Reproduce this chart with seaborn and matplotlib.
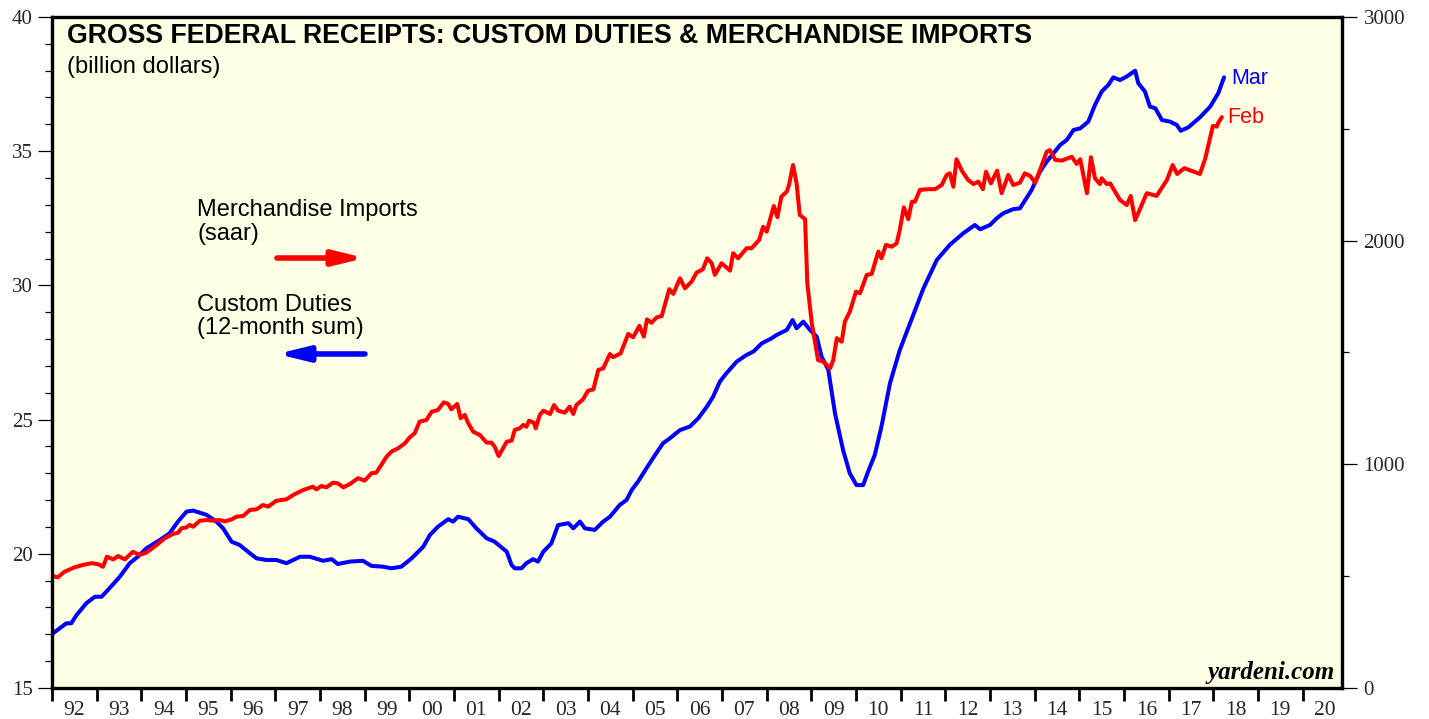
import matplotlib
matplotlib.use("Agg")
import matplotlib.pyplot as plt
from matplotlib.ticker import MultipleLocator, FixedLocator, NullFormatter
import seaborn as sns

# Custom duties, 12-month sum (billion dollars, left axis)
duties_year = [
    1992.00, 1992.17, 1992.32, 1992.43, 1992.55, 1992.77, 1992.96, 1993.11, 1993.25, 1993.52,
    1993.74, 1993.92, 1994.11, 1994.41, 1994.63, 1994.82, 1995.01, 1995.16, 1995.46, 1995.68,
    1995.83, 1996.02, 1996.20, 1996.43, 1996.58, 1996.80, 1997.02, 1997.25, 1997.55, 1997.77,
    1998.07, 1998.26, 1998.40, 1998.67, 1998.96, 1999.15, 1999.41, 1999.60, 1999.82, 2000.05,
    2000.31, 2000.46, 2000.64, 2000.87, 2000.98, 2001.09, 2001.32, 2001.50, 2001.73, 2001.91,
    2002.18, 2002.29, 2002.36, 2002.51, 2002.62, 2002.77, 2002.88, 2003.00, 2003.18, 2003.33,
    2003.56, 2003.67, 2003.82, 2003.93, 2004.15, 2004.34, 2004.49, 2004.71, 2004.86, 2004.98,
    2005.12, 2005.31, 2005.50, 2005.68, 2005.83, 2006.06, 2006.28, 2006.47, 2006.66, 2006.80,
    2006.95, 2007.10, 2007.33, 2007.55, 2007.70, 2007.89, 2008.11, 2008.22, 2008.45, 2008.58,
    2008.67, 2008.82, 2008.97, 2009.12, 2009.23, 2009.38, 2009.53, 2009.71, 2009.86, 2010.01,
    2010.16, 2010.27, 2010.42, 2010.57, 2010.76, 2010.98, 2011.21, 2011.51, 2011.81, 2012.10,
    2012.40, 2012.66, 2012.78, 2013.00, 2013.15, 2013.30, 2013.52, 2013.67, 2013.93, 2014.12,
    2014.27, 2014.42, 2014.57, 2014.72, 2014.87, 2015.02, 2015.20, 2015.35, 2015.50, 2015.65,
    2015.76, 2015.91, 2016.06, 2016.25, 2016.32, 2016.47, 2016.58, 2016.70, 2016.85, 2017.03,
    2017.18, 2017.27, 2017.44, 2017.70, 2017.93, 2018.11, 2018.24,
]
duties_bn = [
    17.01, 17.22, 17.41, 17.41, 17.72, 18.16, 18.40, 18.40, 18.65, 19.15,
    19.65, 19.89, 20.20, 20.51, 20.76, 21.20, 21.57, 21.61, 21.45, 21.20,
    20.95, 20.45, 20.33, 20.02, 19.83, 19.77, 19.77, 19.65, 19.89, 19.89,
    19.74, 19.80, 19.62, 19.71, 19.74, 19.55, 19.52, 19.46, 19.52, 19.83,
    20.26, 20.70, 21.01, 21.29, 21.20, 21.38, 21.29, 20.95, 20.58, 20.45,
    20.08, 19.58, 19.46, 19.46, 19.65, 19.80, 19.71, 20.08, 20.39, 21.07,
    21.14, 20.95, 21.20, 20.95, 20.89, 21.20, 21.38, 21.82, 22.00, 22.38,
    22.69, 23.19, 23.68, 24.12, 24.30, 24.61, 24.74, 25.05, 25.48, 25.85,
    26.41, 26.73, 27.16, 27.41, 27.53, 27.84, 28.03, 28.15, 28.34, 28.71,
    28.40, 28.65, 28.34, 28.09, 27.34, 26.85, 25.23, 23.87, 23.00, 22.56,
    22.56, 23.06, 23.68, 24.74, 26.35, 27.59, 28.59, 29.89, 30.95, 31.51,
    31.94, 32.25, 32.09, 32.25, 32.50, 32.69, 32.84, 32.87, 33.55, 34.24,
    34.61, 34.92, 35.23, 35.42, 35.79, 35.85, 36.10, 36.72, 37.22, 37.47,
    37.75, 37.65, 37.78, 38.00, 37.53, 37.22, 36.66, 36.60, 36.16, 36.10,
    35.98, 35.76, 35.89, 36.26, 36.66, 37.16, 37.75,
]

# Merchandise imports, saar (billion dollars, right axis)
imports_year = [
    1992.00, 1992.13, 1992.28, 1992.51, 1992.69, 1992.88, 1993.03, 1993.14, 1993.23, 1993.37,
    1993.48, 1993.63, 1993.81, 1993.96, 1994.11, 1994.34, 1994.52, 1994.71, 1994.82, 1994.90,
    1995.01, 1995.08, 1995.16, 1995.31, 1995.46, 1995.60, 1995.75, 1995.87, 1996.02, 1996.13,
    1996.28, 1996.43, 1996.58, 1996.72, 1996.84, 1997.02, 1997.25, 1997.40, 1997.62, 1997.84,
    1997.92, 1998.03, 1998.14, 1998.29, 1998.40, 1998.52, 1998.67, 1998.85, 1999.00, 1999.15,
    1999.26, 1999.49, 1999.60, 1999.75, 1999.90, 2000.01, 2000.12, 2000.23, 2000.38, 2000.50,
    2000.64, 2000.77, 2000.87, 2000.94, 2001.07, 2001.15, 2001.24, 2001.32, 2001.43, 2001.58,
    2001.73, 2001.84, 2001.91, 2002.00, 2002.10, 2002.18, 2002.29, 2002.36, 2002.47, 2002.55,
    2002.62, 2002.68, 2002.79, 2002.83, 2002.92, 2003.00, 2003.15, 2003.24, 2003.33, 2003.48,
    2003.59, 2003.67, 2003.74, 2003.89, 2004.00, 2004.12, 2004.23, 2004.34, 2004.49, 2004.56,
    2004.73, 2004.90, 2005.01, 2005.15, 2005.25, 2005.32, 2005.42, 2005.54, 2005.65, 2005.82,
    2005.91, 2006.06, 2006.17, 2006.32, 2006.43, 2006.57, 2006.67, 2006.77, 2006.84, 2006.99,
    2007.18, 2007.25, 2007.36, 2007.55, 2007.66, 2007.83, 2007.92, 2008.00, 2008.16, 2008.24,
    2008.33, 2008.45, 2008.50, 2008.59, 2008.67, 2008.74, 2008.86, 2008.91, 2009.01, 2009.15,
    2009.27, 2009.42, 2009.49, 2009.57, 2009.68, 2009.75, 2009.86, 2010.00, 2010.09, 2010.24,
    2010.35, 2010.50, 2010.57, 2010.67, 2010.80, 2010.91, 2010.98, 2011.07, 2011.17, 2011.25,
    2011.32, 2011.43, 2011.62, 2011.77, 2011.92, 2012.03, 2012.10, 2012.18, 2012.25, 2012.37,
    2012.51, 2012.63, 2012.74, 2012.84, 2012.91, 2013.02, 2013.16, 2013.26, 2013.41, 2013.52,
    2013.67, 2013.78, 2013.90, 2014.01, 2014.12, 2014.27, 2014.34, 2014.46, 2014.61, 2014.83,
    2014.94, 2015.02, 2015.17, 2015.26, 2015.35, 2015.46, 2015.50, 2015.61, 2015.69, 2015.91,
    2016.06, 2016.15, 2016.25, 2016.51, 2016.66, 2016.73, 2016.96, 2017.09, 2017.19, 2017.35,
    2017.70, 2017.82, 2017.99, 2018.08, 2018.11, 2018.19,
]
imports_bn = [
    501, 495, 520, 540, 550, 558, 554, 542, 587, 575,
    590, 575, 609, 595, 605, 639, 669, 689, 694, 714,
    718, 729, 721, 748, 751, 748, 751, 745, 754, 766,
    769, 796, 799, 818, 811, 837, 844, 863, 885, 900,
    888, 903, 897, 918, 915, 897, 912, 938, 927, 960,
    963, 1034, 1057, 1072, 1094, 1121, 1139, 1191, 1198, 1235,
    1243, 1277, 1270, 1246, 1270, 1206, 1221, 1183, 1146, 1131,
    1097, 1097, 1079, 1037, 1072, 1101, 1106, 1154, 1161, 1176,
    1168, 1195, 1186, 1161, 1221, 1240, 1225, 1265, 1240, 1231,
    1258, 1225, 1265, 1291, 1329, 1335, 1422, 1429, 1493, 1479,
    1496, 1583, 1568, 1619, 1571, 1648, 1633, 1657, 1663, 1783,
    1762, 1832, 1787, 1817, 1857, 1872, 1921, 1899, 1847, 1899,
    1866, 1944, 1921, 1966, 1966, 2003, 2062, 2040, 2155, 2105,
    2197, 2219, 2249, 2338, 2256, 2115, 2096, 1809, 1631, 1466,
    1459, 1429, 1466, 1564, 1548, 1638, 1682, 1772, 1765, 1847,
    1851, 1951, 1921, 1981, 1973, 1988, 2048, 2149, 2096, 2174,
    2174, 2227, 2230, 2230, 2249, 2294, 2301, 2241, 2364, 2313,
    2271, 2253, 2264, 2230, 2308, 2256, 2313, 2212, 2294, 2249,
    2259, 2301, 2289, 2259, 2316, 2398, 2405, 2361, 2358, 2375,
    2343, 2364, 2212, 2373, 2279, 2253, 2279, 2253, 2256, 2182,
    2159, 2200, 2092, 2212, 2204, 2200, 2271, 2338, 2298, 2324,
    2298, 2368, 2513, 2510, 2527, 2552,
]

years = list(range(1992, 2021))
year_labels = ["92", "93", "94", "95", "96", "97", "98", "99", "00", "01",
               "02", "03", "04", "05", "06", "07", "08", "09", "10", "11",
               "12", "13", "14", "15", "16", "17", "18", "19", "20"]

BLUE = "#0000FF"
RED = "#FF0000"
SERIF = ["Liberation Serif", "DejaVu Serif"]

sns.set_theme(style="ticks")
plt.rcParams["font.family"] = ["Liberation Sans", "DejaVu Sans"]

fig = plt.figure(figsize=(14.29, 7.19), dpi=100)
ax = fig.add_axes([0.0364, 0.0431, 0.9027, 0.9333])
ax.set_facecolor("#FFFFE6")
ax2 = ax.twinx()

sns.lineplot(x=duties_year, y=duties_bn, ax=ax, color=BLUE, linewidth=2.9,
             estimator=None, sort=False)
sns.lineplot(x=imports_year, y=imports_bn, ax=ax2, color=RED, linewidth=2.9,
             estimator=None, sort=False)

ax.set_xlim(1992, 2020.88)
ax.set_ylim(15, 40)
ax2.set_ylim(0, 3000)
ax.set_xlabel("")
ax.set_ylabel("")
ax2.set_ylabel("")

# year boundaries as ticks, year labels centred between them
ax.xaxis.set_major_locator(FixedLocator(years))
ax.xaxis.set_major_formatter(NullFormatter())
ax.xaxis.set_minor_locator(FixedLocator([y + 0.5 for y in years]))
ax.set_xticklabels(year_labels, minor=True)
ax.tick_params(axis="x", which="major", direction="out", length=9.5, width=2.0,
               color="black")
ax.tick_params(axis="x", which="minor", length=0, pad=9, labelsize=15.5)

ax.yaxis.set_major_locator(MultipleLocator(5))
ax.yaxis.set_minor_locator(MultipleLocator(1))
ax.tick_params(axis="y", which="major", direction="out", length=10, width=0.9,
               pad=4, labelsize=15, color="black", left=True, right=False)
ax.tick_params(axis="y", which="minor", direction="out", length=5, width=0.9,
               color="black", left=True, right=False)

ax2.yaxis.set_major_locator(MultipleLocator(1000))
ax2.yaxis.set_minor_locator(MultipleLocator(500))
ax2.tick_params(axis="y", which="major", direction="out", length=10.5, width=0.9,
                pad=5, labelsize=15, color="black")
ax2.tick_params(axis="y", which="minor", direction="out", length=5, width=0.9,
                color="black")

for a in (ax, ax2):
    for lbl in a.get_xticklabels(minor=True) + a.get_yticklabels():
        lbl.set_fontfamily(SERIF)
    for side in ("left", "right", "top", "bottom"):
        a.spines[side].set_visible(True)
        a.spines[side].set_color("black")
        a.spines[side].set_linewidth(2.3)

ax.grid(False)
ax2.grid(False)

tr = ax.transAxes
ax.text(0.0116, 0.971, "GROSS FEDERAL RECEIPTS: CUSTOM DUTIES & MERCHANDISE IMPORTS",
        transform=tr, fontsize=19.2, fontweight="bold", color="black",
        ha="left", va="center")
ax.text(0.0116, 0.926, "(billion dollars)", transform=tr, fontsize=17,
        color="black", ha="left", va="center")

ax.text(0.1124, 0.712, "Merchandise Imports", transform=tr, fontsize=17,
        color="black", ha="left", va="center")
ax.text(0.1124, 0.6766, "(saar)", transform=tr, fontsize=17,
        color="black", ha="left", va="center")
ax.text(0.1124, 0.5708, "Custom Duties", transform=tr, fontsize=17,
        color="black", ha="left", va="center")
ax.text(0.1124, 0.5365, "(12-month sum)", transform=tr, fontsize=17,
        color="black", ha="left", va="center")

arrow_style = "-|>,head_length=0.9,head_width=0.22"
ax.annotate("", xy=(0.2426, 0.6408), xytext=(0.1744, 0.6408),
            xycoords=tr, textcoords=tr,
            arrowprops=dict(arrowstyle=arrow_style, color=RED, lw=4,
                            mutation_scale=20, shrinkA=0, shrinkB=0))
ax.annotate("", xy=(0.1744, 0.4978), xytext=(0.2426, 0.4978),
            xycoords=tr, textcoords=tr,
            arrowprops=dict(arrowstyle=arrow_style, color=BLUE, lw=4,
                            mutation_scale=20, shrinkA=0, shrinkB=0))

# latest-month tags at the end of each series
ax.annotate("Mar", xy=(duties_year[-1], duties_bn[-1]), xytext=(5, -1),
            textcoords="offset points", fontsize=15.5, color=BLUE,
            ha="left", va="center")
ax2.annotate("Feb", xy=(imports_year[-1], imports_bn[-1]), xytext=(4, 0),
             textcoords="offset points", fontsize=15.5, color=RED,
             ha="left", va="center")

ax.text(0.9946, 0.0224, "yardeni.com", transform=tr, fontsize=18,
        fontweight="bold", fontstyle="italic", family=SERIF,
        color="black", ha="right", va="center")

fig.savefig("out.png", dpi=100)
